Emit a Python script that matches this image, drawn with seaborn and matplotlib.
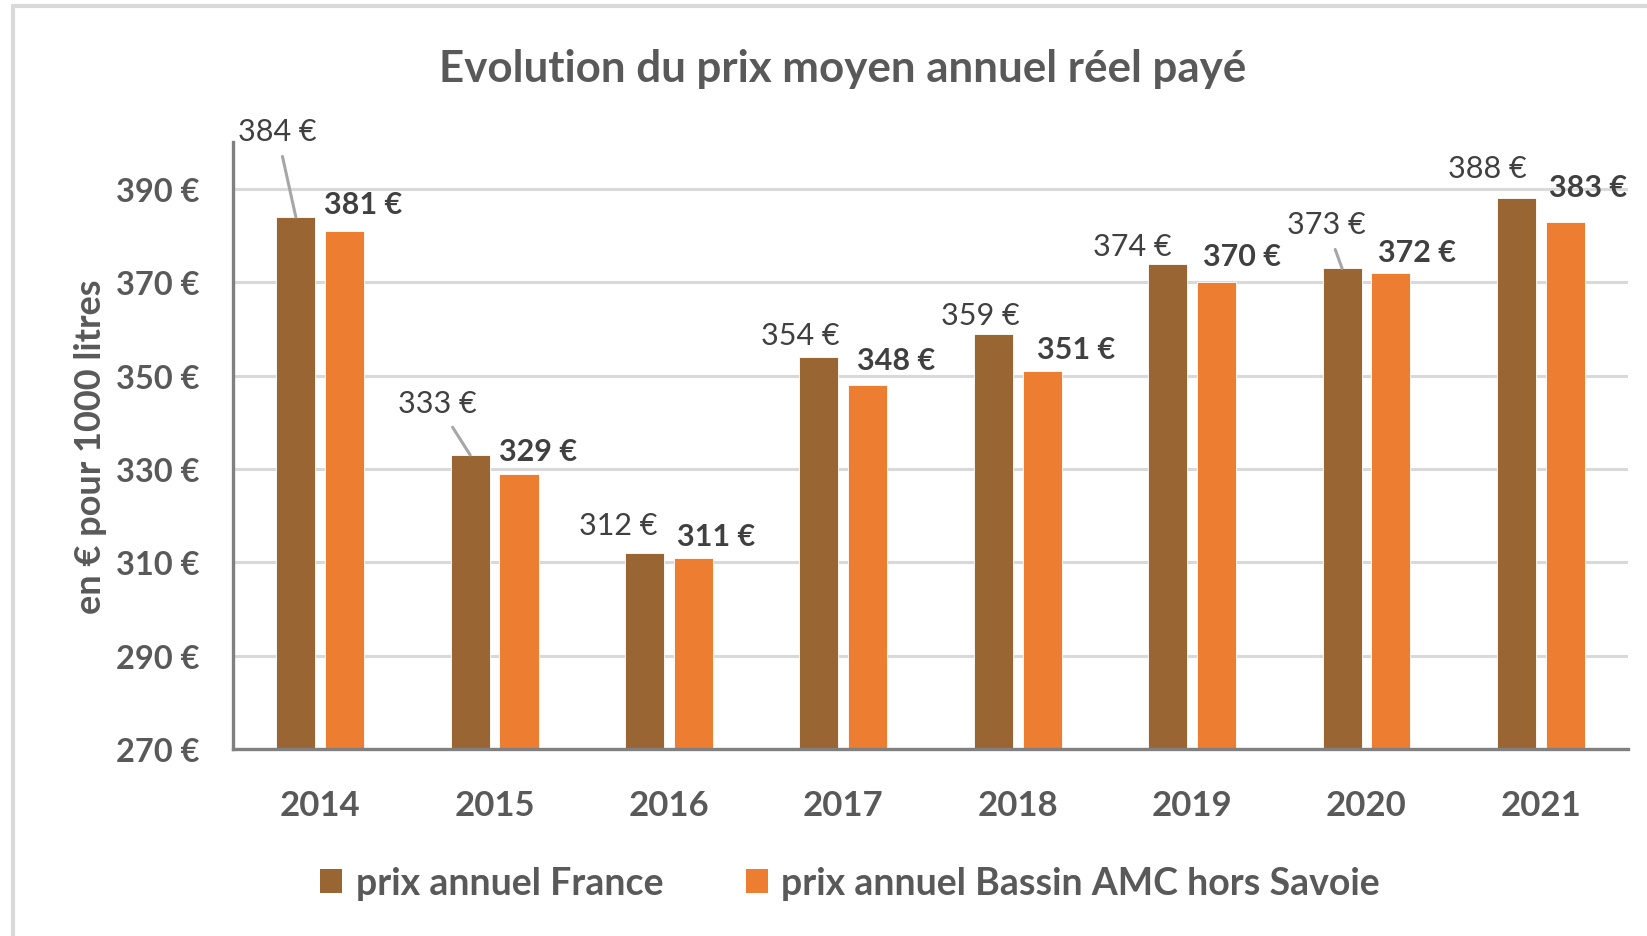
import pandas as pd
import seaborn as sns
import matplotlib.pyplot as plt
from matplotlib.lines import Line2D
from matplotlib.patches import Patch

# données
annees = ["2014", "2015", "2016", "2017", "2018", "2019", "2020", "2021"]
prix_france = [384, 333, 312, 354, 359, 374, 373, 388]
prix_amc = [381, 329, 311, 348, 351, 370, 372, 383]
series = ["prix annuel France", "prix annuel Bassin AMC hors Savoie"]
yticks = [270, 290, 310, 330, 350, 370, 390]

COULEURS = ["#996633", "#ED7D31"]
GRIS = "#595959"

# décalage des étiquettes (pixels, depuis le haut de la barre)
OFFS_FR = [(-19, 77), (-33, 43), (-26, 19), (-19, 13), (-13, 10), (-35, 9), (-16, 35), (-29, 21)]
OFFS_AMC = [(18, 18), (19, 14), (23, 13), (28, 16), (34, 13), (25, 17), (26, 12), (23, 26)]
LEADER = [True, True, False, False, False, False, True, False]

df = pd.DataFrame({
    "annee": annees * 2,
    "prix": prix_france + prix_amc,
    "serie": [series[0]] * len(annees) + [series[1]] * len(annees),
})

sns.set_style("white")
plt.rcParams["font.family"] = ["Lato", "DejaVu Sans"]

fig = plt.figure(figsize=(16.47, 9.37), dpi=100)
ax = fig.add_axes([0.1415, 0.1996, 0.847, 0.6474])

sns.barplot(data=df, x="annee", y="prix", hue="serie", palette=COULEURS,
            saturation=1, width=0.56, gap=0.2, ax=ax, legend=False,
            edgecolor="white", linewidth=0.6)

ax.set_ylim(270, 400)
ax.set_xlim(-0.5, len(annees) - 0.5)
ax.set_yticks(yticks)
ax.set_yticklabels([f"{v} €" for v in yticks])
ax.yaxis.grid(True, color="#D9D9D9", lw=2.2)
ax.set_axisbelow(True)
ax.tick_params(axis="y", length=0, pad=24, labelsize=23.5, labelcolor=GRIS)
ax.tick_params(axis="x", length=0, pad=29, labelsize=25, labelcolor=GRIS)
for lab in ax.get_xticklabels() + ax.get_yticklabels():
    lab.set_fontweight("bold")

for s in ["top", "right"]:
    ax.spines[s].set_visible(False)
for s in ["left", "bottom"]:
    ax.spines[s].set_color("#808080")
    ax.spines[s].set_linewidth(2.4)

ax.set_xlabel("")
ax.set_ylabel("en € pour 1000 litres", fontsize=26, fontweight="bold", color=GRIS)
ax.yaxis.set_label_coords(-0.0905, 0.5)

# étiquettes de données
for cont, offs, bold in zip(ax.containers, [OFFS_FR, OFFS_AMC], [False, True]):
    for i, bar in enumerate(cont):
        x = bar.get_x() + bar.get_width() / 2
        y = bar.get_height()
        kw = {}
        if not bold and LEADER[i]:
            kw["arrowprops"] = dict(arrowstyle="-", color="#A6A6A6", lw=2.2,
                                    shrinkA=6, shrinkB=0)
        ax.annotate(f"{int(y)} €", xy=(x, y), xytext=offs[i], textcoords="offset pixels",
                    ha="center", va="baseline", fontsize=22, color="#404040",
                    fontweight="bold" if bold else "normal", **kw)

fig.text(0.5115, 0.926, "Evolution du prix moyen annuel réel payé", ha="center", va="center",
         fontsize=31.6, fontweight="bold", color=GRIS)

handles = [Patch(facecolor=c, edgecolor="none") for c in COULEURS]
leg = fig.legend(handles, series, loc="center", bbox_to_anchor=(0.516, 0.0566), ncol=2,
                 frameon=False, fontsize=27, handlelength=0.6, handleheight=0.6,
                 handletextpad=0.35, columnspacing=2.2)
for t in leg.get_texts():
    t.set_color(GRIS)
    t.set_fontweight("bold")

# cadre gris du graphique
fig.add_artist(Line2D([13 / 1647, 13 / 1647], [0, 1 - 7 / 937], transform=fig.transFigure,
                      color="#D9D9D9", lw=3))
fig.add_artist(Line2D([13 / 1647, 1], [1 - 7 / 937, 1 - 7 / 937], transform=fig.transFigure,
                      color="#D9D9D9", lw=3))

fig.savefig("out.png", dpi=100)
